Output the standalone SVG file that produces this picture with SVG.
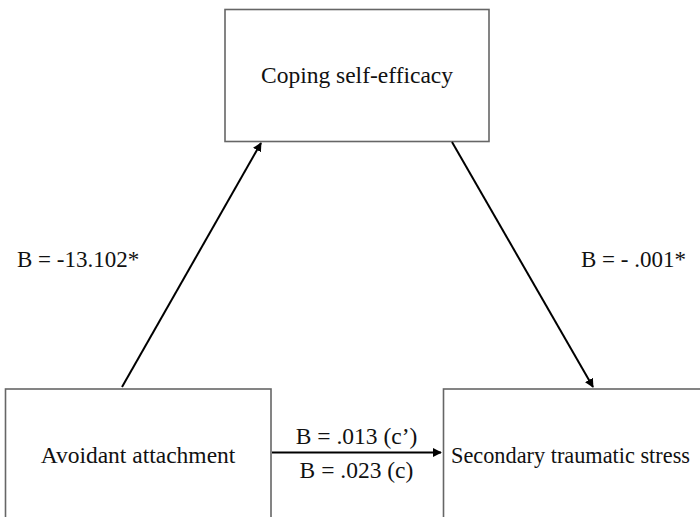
<svg xmlns="http://www.w3.org/2000/svg" width="700" height="517" viewBox="0 0 700 517">
<style>
.box{fill:#fff;stroke:#666;stroke-width:1.6}
.t{font-family:"Liberation Serif","Times New Roman",serif;font-size:23.5px;fill:#111}
.c{stroke:#000;stroke-width:2;fill:none}
</style>
<defs>
<marker id="ah" viewBox="0 0 10 10" refX="9" refY="5" markerWidth="4.5" markerHeight="4.5" orient="auto" markerUnits="strokeWidth">
<path d="M0,0 L10,5 L0,10 z" fill="#000"/>
</marker>
</defs>
<rect width="700" height="517" fill="#fff"/>
<g id="node-coping">
<rect class="box" x="225" y="9.5" width="264" height="132"/>
<text class="t" x="357" y="83" text-anchor="middle">Coping self-efficacy</text>
</g>
<g id="node-avoidant">
<rect class="box" x="5.5" y="389" width="265.5" height="140"/>
<text class="t" x="138" y="463" text-anchor="middle">Avoidant attachment</text>
</g>
<g id="node-sts">
<rect class="box" x="443.5" y="389" width="270" height="140"/>
<text class="t" x="451" y="463" style="font-size:22.3px">Secondary traumatic stress</text>
</g>
<g id="connectors">
<line class="c" x1="122" y1="387" x2="261" y2="143" marker-end="url(#ah)"/>
<line class="c" x1="452" y1="142" x2="593" y2="387" marker-end="url(#ah)"/>
<line class="c" x1="272" y1="452.5" x2="441" y2="452.5" marker-end="url(#ah)"/>
</g>
<g id="labels">
<text class="t" x="17" y="267" style="font-size:23px">B = -13.102*</text>
<text class="t" x="581" y="267" style="font-size:23px">B = - .001*</text>
<text class="t" x="356.5" y="444" text-anchor="middle">B = .013 (c’)</text>
<text class="t" x="356.5" y="478" text-anchor="middle">B = .023 (c)</text>
</g>
</svg>
